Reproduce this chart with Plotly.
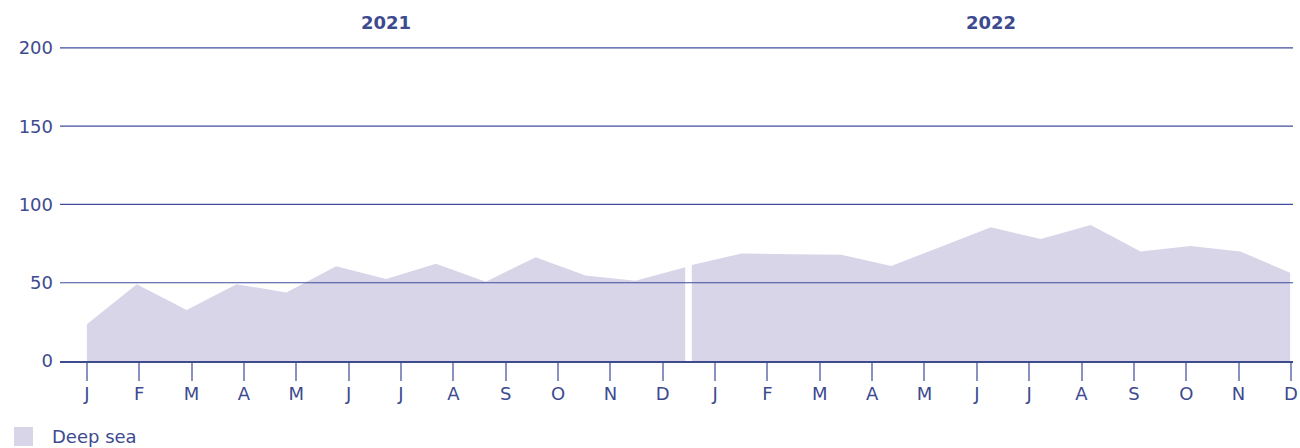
import plotly.graph_objects as go

# ---- data ----
MONTHS = ["J", "F", "M", "A", "M", "J", "J", "A", "S", "O", "N", "D"]
YEARS = ["2021", "2022"]
DEEP_SEA_2021 = [23.4, 49.1, 32.6, 49.1, 43.8, 60.5, 52.4, 62.2, 50.6, 66.3, 54.7, 51.3, 59.9]
DEEP_SEA_2022 = [61.4, 68.7, 68.2, 67.8, 60.7, 73.2, 85.4, 77.9, 86.9, 70.0, 73.4, 70.0, 56.4]
Y_TICKS = [0, 50, 100, 150, 200]
SERIES_NAME = "Deep sea"

# ---- styling ----
TEXT = "#3d4a8f"
GRID = "#3f4d9c"
AXIS = "#3d4a8c"
TICK = "#8a92c2"
FILL = "#d8d5e8"
FONT = "DejaVu Sans"

W, H = 1300, 448
ML, MR, MT, MB = 60, 7, 47, 87
PW, PH = W - ML - MR, H - MT - MB
Y_TOP = 200.6  # a hair of headroom so the top gridline is not clipped

# 13 four-week periods per year, laid on a month axis (month units)
STEP = 11.43 / 12
YEAR_STARTS = [0.0, 11.555]
series = [DEEP_SEA_2021, DEEP_SEA_2022]

fig = go.Figure()
for start, vals in zip(YEAR_STARTS, series):
    xs = [start + i * STEP for i in range(len(vals))]
    fig.add_trace(go.Scatter(
        x=xs, y=vals, mode="lines", fill="tozeroy",
        line=dict(width=0, color=FILL), fillcolor=FILL,
        showlegend=False, hoverinfo="skip"))

# year labels centred over each year's span
for start, vals, yr in zip(YEAR_STARTS, series, YEARS):
    xs = [start + i * STEP for i in range(len(vals))]
    fig.add_annotation(x=(xs[0] + xs[-1]) / 2, y=1, xref="x", yref="paper",
                       yanchor="bottom", yshift=12, text=f"<b>{yr}</b>",
                       showarrow=False, font=dict(size=18, color=TEXT, family=FONT))

# gridlines drawn above the area
for v in Y_TICKS[1:]:
    fig.add_shape(type="line", xref="paper", x0=0, x1=1, yref="y", y0=v, y1=v,
                  line=dict(color=GRID, width=1.2), layer="above")

# legend (swatch + label) placed in pixel terms below the axis
def px_x(p):
    return (p - ML) / PW

def px_y(p):
    return (MT + PH - p) / PH

fig.add_shape(type="rect", xref="paper", yref="paper",
              x0=px_x(14), x1=px_x(33), y0=px_y(427), y1=px_y(446),
              fillcolor=FILL, line=dict(width=0))
fig.add_annotation(x=px_x(50), y=px_y(436.5), xref="paper", yref="paper",
                   xanchor="left", yanchor="middle", text=SERIES_NAME,
                   showarrow=False, font=dict(size=18, color=TEXT, family=FONT))

tickvals = list(range(2 * len(MONTHS)))
ticktext = MONTHS * 2

fig.update_layout(
    width=W, height=H, autosize=False,
    margin=dict(l=ML, r=MR, t=MT, b=MB, autoexpand=False),
    paper_bgcolor="white", plot_bgcolor="white",
    font=dict(family=FONT, color=TEXT, size=18),
    showlegend=False,
    xaxis=dict(range=[-0.514, 23.04], tickvals=tickvals, ticktext=ticktext,
               showgrid=False, zeroline=False, showline=True, linecolor=AXIS,
               linewidth=2, ticks="outside", ticklen=18, tickwidth=1.5,
               tickcolor=TICK, tickfont=dict(size=18, color=TEXT),
               ticklabelstandoff=-3, ticklabeloverflow="allow",
               layer="above traces", fixedrange=True, automargin=False),
    yaxis=dict(range=[0, Y_TOP], tickvals=Y_TICKS, showgrid=False, zeroline=False,
               showline=False, ticks="", tickfont=dict(size=18, color=TEXT),
               ticklabelstandoff=6, fixedrange=True, automargin=False),
)

fig.write_html(
    "out.html",
    config={"displayModeBar": False},
    post_script="document.body.style.margin='0';document.body.style.overflow='hidden';",
)
